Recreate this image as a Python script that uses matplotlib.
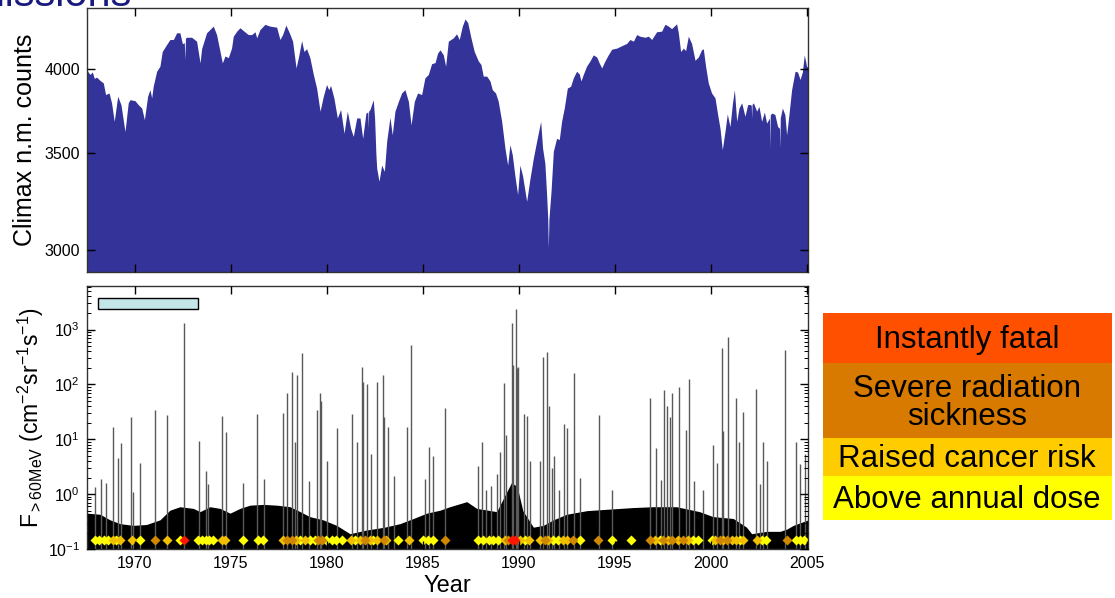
import numpy as np
import matplotlib
matplotlib.use('Agg')
import matplotlib.pyplot as plt
from matplotlib.patches import Rectangle
from matplotlib.ticker import FixedLocator, NullLocator, FuncFormatter

plt.rcParams['font.family'] = ['Liberation Sans', 'DejaVu Sans']
plt.rcParams['mathtext.fontset'] = 'custom'
plt.rcParams['mathtext.rm'] = 'Liberation Sans'
plt.rcParams['mathtext.it'] = 'Liberation Sans:italic'
plt.rcParams['mathtext.default'] = 'regular'

# --- Climax neutron monitor ---
nm_years = [1967.50, 1967.53, 1967.66, 1967.78, 1967.88, 1968.00, 1968.18, 1968.35, 1968.47, 1968.65,
            1968.78, 1968.92, 1969.10, 1969.27, 1969.48, 1969.65, 1969.74, 1970.00, 1970.17, 1970.35,
            1970.49, 1970.66, 1970.78, 1970.87, 1970.95, 1971.13, 1971.30, 1971.42, 1971.65, 1971.82,
            1972.00, 1972.17, 1972.34, 1972.47, 1972.57, 1972.60, 1972.63, 1972.69, 1972.95, 1973.21,
            1973.39, 1973.47, 1973.73, 1974.08, 1974.25, 1974.43, 1974.55, 1974.69, 1974.86, 1975.03,
            1975.12, 1975.30, 1975.47, 1975.64, 1975.90, 1976.08, 1976.25, 1976.34, 1976.51, 1976.77,
            1977.03, 1977.38, 1977.55, 1977.69, 1977.86, 1978.04, 1978.21, 1978.39, 1978.51, 1978.68,
            1978.80, 1978.94, 1979.11, 1979.29, 1979.46, 1979.64, 1979.81, 1979.98, 1980.09, 1980.19,
            1980.36, 1980.54, 1980.71, 1980.89, 1981.06, 1981.23, 1981.37, 1981.55, 1981.72, 1981.86,
            1982.03, 1982.13, 1982.15, 1982.17, 1982.24, 1982.41, 1982.48, 1982.55, 1982.59, 1982.71,
            1982.85, 1982.99, 1983.11, 1983.28, 1983.40, 1983.54, 1983.72, 1983.89, 1984.06, 1984.24,
            1984.38, 1984.55, 1984.72, 1984.93, 1985.10, 1985.28, 1985.45, 1985.63, 1985.76, 1985.89,
            1986.06, 1986.18, 1986.32, 1986.58, 1986.75, 1986.89, 1987.05, 1987.19, 1987.33, 1987.50,
            1987.67, 1987.88, 1988.02, 1988.14, 1988.32, 1988.49, 1988.61, 1988.78, 1988.92, 1989.10,
            1989.27, 1989.41, 1989.53, 1989.65, 1989.79, 1989.93, 1990.05, 1990.19, 1990.40, 1990.57,
            1990.75, 1990.92, 1991.13, 1991.23, 1991.35, 1991.44, 1991.50, 1991.53, 1991.56, 1991.67,
            1991.79, 1991.96, 1992.10, 1992.22, 1992.36, 1992.52, 1992.69, 1992.83, 1993.00, 1993.14,
            1993.23, 1993.35, 1993.52, 1993.70, 1993.87, 1994.05, 1994.18, 1994.31, 1994.48, 1994.65,
            1994.83, 1995.09, 1995.35, 1995.61, 1995.78, 1995.96, 1996.13, 1996.30, 1996.56, 1996.74,
            1996.91, 1997.17, 1997.43, 1997.60, 1997.69, 1997.78, 1997.95, 1998.21, 1998.30, 1998.42,
            1998.56, 1998.68, 1998.82, 1998.99, 1999.17, 1999.34, 1999.51, 1999.60, 1999.72, 1999.86,
            2000.03, 2000.21, 2000.35, 2000.47, 2000.59, 2000.73, 2000.85, 2000.99, 2001.11, 2001.22,
            2001.34, 2001.46, 2001.60, 2001.77, 2001.91, 2002.03, 2002.10, 2002.12, 2002.14, 2002.21,
            2002.38, 2002.50, 2002.64, 2002.78, 2002.90, 2003.05, 2003.07, 2003.09, 2003.19, 2003.33,
            2003.47, 2003.57, 2003.59, 2003.61, 2003.72, 2003.85, 2003.94, 2004.06, 2004.20, 2004.38,
            2004.51, 2004.64, 2004.76, 2004.86, 2004.98, 2005.07]
nm_counts = [3990, 3985, 3965, 3980, 3940, 3948, 3927, 3912, 3840, 3850,
             3790, 3680, 3830, 3779, 3621, 3790, 3809, 3803, 3779, 3759,
             3690, 3830, 3870, 3820, 3891, 3985, 4017, 4112, 4158, 4191,
             4191, 4236, 4236, 4163, 4170, 4060, 4200, 4206, 4206, 4180,
             4038, 4130, 4236, 4281, 4224, 4112, 4038, 4083, 4072, 4134,
             4213, 4247, 4270, 4251, 4224, 4224, 4243, 4202, 4258, 4293,
             4281, 4274, 4191, 4224, 4288, 4236, 4180, 4006, 4072, 4184,
             4112, 4130, 4072, 3965, 3880, 3740, 3830, 3902, 3870, 3896,
             3820, 3700, 3750, 3611, 3740, 3640, 3593, 3700, 3700, 3582,
             3729, 3735, 3640, 3740, 3750, 3809, 3700, 3490, 3417, 3346,
             3433, 3399, 3565, 3704, 3602, 3740, 3799, 3850, 3870, 3799,
             3660, 3799, 3850, 3840, 3943, 3965, 4033, 4040, 4101, 4123,
             4090, 4017, 4180, 4202, 4229, 4191, 4281, 4330, 4305, 4202,
             4112, 4051, 4028, 3954, 3954, 3924, 3870, 3850, 3799, 3680,
             3527, 3433, 3546, 3491, 3374, 3276, 3433, 3374, 3241, 3358,
             3472, 3565, 3680, 3527, 3442, 3276, 3150, 3010, 3150, 3293,
             3509, 3582, 3575, 3680, 3759, 3880, 3891, 3943, 3985, 3968,
             3924, 3965, 4017, 4051, 4090, 4076, 4038, 4006, 4051, 4090,
             4127, 4134, 4150, 4165, 4191, 4180, 4224, 4213, 4206, 4213,
             4191, 4243, 4247, 4293, 4288, 4281, 4264, 4297, 4236, 4112,
             4134, 4118, 4213, 4165, 4055, 4076, 4123, 4130, 4017, 3912,
             3850, 3820, 3719, 3640, 3518, 3621, 3723, 3650, 3779, 3870,
             3680, 3759, 3790, 3710, 3779, 3780, 3775, 3700, 3780, 3790,
             3740, 3768, 3680, 3735, 3670, 3700, 3527, 3720, 3729, 3720,
             3650, 3640, 3527, 3700, 3759, 3719, 3602, 3719, 3870, 3985,
             3980, 3933, 3980, 4090, 4017, 4010]

# --- >60 MeV proton flux: quiet background level ---
bg_years = [1967.5, 1968.18, 1968.7, 1969.22, 1969.91, 1970.6, 1971.3, 1971.82, 1972.34, 1973.04,
            1973.39, 1973.9, 1974.43, 1974.95, 1975.47, 1975.99, 1976.68, 1977.38, 1978.07, 1978.6,
            1979.1, 1979.8, 1980.5, 1981.2, 1982.0, 1983.0, 1983.8, 1984.5, 1985.19, 1985.89,
            1986.4, 1987.28, 1987.8, 1988.84, 1989.3, 1989.6, 1989.9, 1990.2, 1990.75, 1991.27,
            1991.79, 1992.48, 1993.53, 1994.57, 1995.95, 1997.0, 1998.2, 1999.4, 2000.1, 2001.16,
            2001.85, 2002.12, 2002.9, 2003.6, 2003.94, 2004.29, 2005.07]
bg_flux = [0.45, 0.43, 0.34, 0.29, 0.27, 0.28, 0.34, 0.51, 0.59, 0.55,
           0.48, 0.59, 0.55, 0.45, 0.55, 0.63, 0.65, 0.63, 0.59, 0.48,
           0.39, 0.34, 0.27, 0.19, 0.22, 0.25, 0.29, 0.36, 0.45, 0.51,
           0.59, 0.73, 0.55, 0.48, 1.0, 1.6, 1.4, 0.5, 0.25, 0.27,
           0.34, 0.43, 0.50, 0.53, 0.57, 0.59, 0.59, 0.48, 0.39, 0.36,
           0.25, 0.19, 0.21, 0.21, 0.23, 0.27, 0.34]

# --- solar proton event peaks ---
spe_years = [1967.92, 1968.21, 1968.49, 1968.87, 1969.13, 1969.25, 1969.79, 1969.88, 1970.26, 1971.04,
             1971.65, 1972.57, 1973.33, 1973.68, 1973.80, 1974.51, 1974.74, 1975.64, 1976.34, 1976.70,
             1977.72, 1977.90, 1978.16, 1978.33, 1978.42, 1978.71, 1979.05, 1979.46, 1979.64, 1979.70,
             1980.00, 1980.50, 1981.29, 1981.58, 1981.81, 1981.86, 1982.10, 1982.30, 1982.59, 1982.93,
             1982.98, 1983.20, 1983.50, 1984.15, 1984.36, 1985.10, 1985.33, 1985.54, 1986.14, 1987.88,
             1988.05, 1988.30, 1988.52, 1988.87, 1989.01, 1989.22, 1989.32, 1989.63, 1989.70, 1989.82,
             1989.88, 1989.96, 1990.26, 1990.40, 1990.55, 1991.09, 1991.27, 1991.47, 1991.56, 1991.70,
             1991.85, 1992.10, 1992.36, 1992.52, 1992.86, 1993.20, 1994.16, 1994.82, 1996.82, 1997.13,
             1997.40, 1997.57, 1997.72, 1997.86, 1997.95, 1998.35, 1998.70, 1998.87, 1999.10, 1999.60,
             2000.12, 2000.30, 2000.55, 2000.61, 2000.90, 2001.30, 2001.45, 2001.65, 2002.34, 2002.55,
             2002.69, 2002.90, 2003.85, 2004.43, 2004.63, 2004.89]
spe_peak = [1.36, 1.86, 1.6, 16.9, 4.5, 8.4, 25.7, 1.1, 3.7, 34,
            27.5, 1290, 9.4, 2.6, 1.5, 27, 13.7, 1.6, 28.8, 1.9,
            30, 68.6, 170, 9, 148, 377, 1.7, 34, 69, 50,
            4, 15.8, 29, 9, 205, 110, 100, 5.5, 110, 148,
            25, 17, 2.1, 17, 520, 1.9, 7.3, 5, 37.5, 3.2,
            9, 1.2, 1.4, 2.3, 5.8, 104, 12, 1290, 222, 2320,
            200, 210, 29, 27, 4, 4, 316, 390, 40, 3,
            5, 1.2, 19, 16, 160, 2, 28, 1.2, 56, 7,
            1.8, 79, 40, 25, 69, 90, 15, 125, 1.7, 1.2,
            8, 3.7, 465, 14, 736, 56, 9, 31, 81, 1.5,
            9, 4, 420, 9, 3.5, 5.5]

# --- event dose class markers ---
above_dose = [1967.92, 1968.14, 1968.39, 1968.61, 1969.01, 1970.26, 1972.34, 1973.30, 1973.47, 1973.70,
              1973.87, 1974.08, 1975.64, 1976.39, 1976.65, 1978.59, 1979.11, 1979.37, 1979.95, 1980.24,
              1980.47, 1980.76, 1981.46, 1982.41, 1983.71, 1985.02, 1985.28, 1985.54, 1987.88, 1988.14,
              1988.45, 1988.66, 1988.92, 1990.31, 1991.79, 1992.05, 1993.18, 1994.83, 1995.82, 1997.34,
              1999.08, 1999.34, 2000.03, 2001.51, 2002.64, 2002.86, 2004.43, 2004.64, 2004.84]
cancer_risk = [1968.84, 1969.22, 1969.83, 1971.68, 1974.51, 1974.69, 1977.69, 1978.39, 1978.85, 1981.23,
               1981.72, 1982.24, 1982.62, 1983.10, 1984.29, 1989.27, 1990.05, 1990.54, 1991.09, 1991.53,
               1992.27, 1992.48, 1997.08, 1997.78, 1998.30, 1998.82, 2000.21, 2000.64, 2001.08, 2001.30,
               2001.68, 2002.38]
severe_sick = [1971.04, 1977.90, 1978.16, 1979.55, 1979.72, 1981.98, 1982.97, 1986.15, 1989.44, 1991.35,
               1992.83, 1994.13, 1996.82, 1997.52, 1997.95, 1998.56, 2000.47, 2000.85, 2003.94]
fatal = [1972.55, 1989.62, 1989.79]

classes = ['Instantly fatal', 'Severe radiation\nsickness', 'Raised cancer risk', 'Above annual dose']
class_cols = ['#ff5000', '#d87a00', '#ffcc00', '#ffff00']

fig = plt.figure(figsize=(11.15, 5.98), dpi=100)
ax1 = fig.add_axes([0.078, 0.5452, 0.6466, 0.4414])
ax2 = fig.add_axes([0.078, 0.0819, 0.6466, 0.4398])

# top panel
ax1.set_yscale('log')
ax1.set_ylim(2897, 4406)
ax1.fill_between(nm_years, 2897, nm_counts, color='#333399', lw=0)
ax1.yaxis.set_major_locator(FixedLocator([3000, 3500, 4000]))
ax1.yaxis.set_minor_locator(NullLocator())
ax1.yaxis.set_major_formatter(FuncFormatter(lambda v, p: '%d' % v))
ax1.set_ylabel('Climax n.m. counts', fontsize=18)
ax1.yaxis.set_label_coords(-0.069, 0.5)
ax1.set_xticklabels([])

# bottom panel
ax2.set_yscale('log')
ax2.set_ylim(0.1, 6200)
ax2.fill_between(bg_years, 0.1, bg_flux, color='k', lw=0)
ax2.vlines(spe_years, 0.1, spe_peak, color='0.35', lw=1.0)
mk = dict(ls='none', marker='D', ms=5.3, mec='none')
ax2.plot(above_dose, [0.145] * len(above_dose), color='#ffff00', **mk)
ax2.plot(cancer_risk, [0.145] * len(cancer_risk), color='#f0c000', **mk)
ax2.plot(severe_sick, [0.145] * len(severe_sick), color='#d08800', **mk)
ax2.plot(fatal, [0.145] * len(fatal), color='#ff1500', **mk)
ax2.add_patch(Rectangle((1968.1, 2400), 5.2, 1400, facecolor='#c4e6e8', edgecolor='k', lw=1))
ax2.set_ylabel(r'F$_{>60\mathrm{MeV}}$ (cm$^{-2}$sr$^{-1}$s$^{-1}$)', fontsize=16.5)
ax2.yaxis.set_label_coords(-0.057, 0.5)
ax2.set_xlabel('Year', fontsize=17, labelpad=3)

for ax in (ax1, ax2):
    ax.set_xlim(1967.5, 2005.05)
    ax.set_xticks(np.arange(1970, 2006, 5))
    ax.tick_params(which='major', direction='in', top=True, right=True, length=6, width=1,
                   labelsize=11.5, pad=5)
    ax.tick_params(which='minor', direction='in', right=True, left=True, length=3, width=0.7)
    for s in ax.spines.values():
        s.set_color('#333333')
        s.set_linewidth(1)
    ax.set_axisbelow(False)

# dose class key
box_y = [(313, 363), (363, 438), (438, 476), (476, 520)]
for (y0, y1), lab, col in zip(box_y, classes, class_cols):
    fig.add_artist(Rectangle((823 / 1115, 1 - y1 / 598), 289 / 1115, (y1 - y0) / 598,
                             transform=fig.transFigure, facecolor=col, edgecolor='none'))
    fig.text(967 / 1115, 1 - (y0 + y1) / 2 / 598 - 0.004, lab, ha='center', va='center',
             fontsize=22.5, linespacing=0.92)

fig.text(-0.026, 1 - 6 / 598, 'Missions', fontsize=30, color='#1a1a7e', va='baseline')

fig.savefig('out.png', dpi=100)
